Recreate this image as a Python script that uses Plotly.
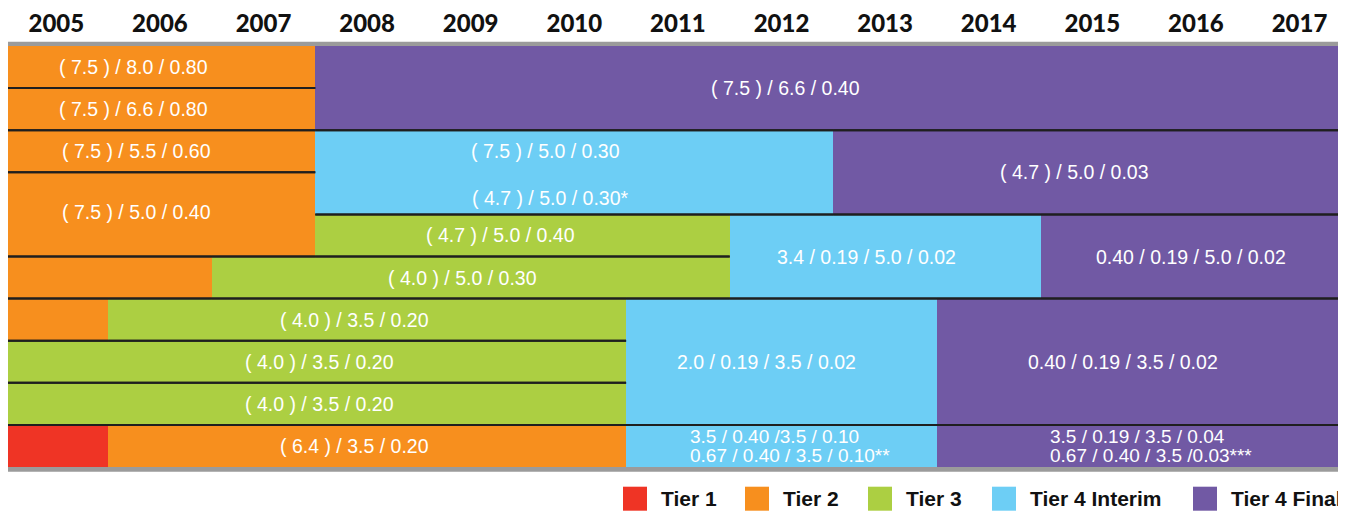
import plotly.graph_objects as go

# ---------------- data ----------------
years = list(range(2005, 2018))
tiers = ["Tier 1", "Tier 2", "Tier 3", "Tier 4 Interim", "Tier 4 Final"]

# timeline blocks: top row (0-9), number of rows covered, start year, end year, tier
block_row   = [0, 0, 1, 0, 2, 2, 2, 3, 4, 4, 4, 5, 5, 6, 6, 6, 6, 7, 7, 8, 8, 9, 9, 9, 9]
block_span  = [2, 1, 1, 2, 1, 2, 2, 2, 1, 2, 2, 1, 1, 1, 1, 3, 3, 1, 1, 1, 1, 1, 1, 1, 1]
block_start = [2004.9, 2005, 2005, 2008, 2004.9, 2008, 2013, 2004.9, 2008, 2012, 2015,
               2004.9, 2007, 2004.9, 2006, 2011, 2014, 2004.9, 2005, 2004.9, 2005,
               2004.9, 2006, 2011, 2014]
block_end   = [2005, 2008, 2008, 2018, 2008, 2013, 2018, 2008, 2012, 2015, 2018,
               2007, 2012, 2006, 2011, 2014, 2018, 2005, 2011, 2005, 2011,
               2006, 2011, 2014, 2018]
block_tier  = ["Tier 1", "Tier 2", "Tier 2", "Tier 4 Final", "Tier 2", "Tier 4 Interim",
               "Tier 4 Final", "Tier 2", "Tier 3", "Tier 4 Interim", "Tier 4 Final",
               "Tier 2", "Tier 3", "Tier 2", "Tier 3", "Tier 4 Interim", "Tier 4 Final",
               "Tier 2", "Tier 3", "Tier 2", "Tier 3", "Tier 1", "Tier 2",
               "Tier 4 Interim", "Tier 4 Final"]

# labels: text, block they belong to, row position (centre)
label_text = [
    "( 7.5 ) / 8.0 / 0.80", "( 7.5 ) / 6.6 / 0.80", "( 7.5 ) / 6.6 / 0.40",
    "( 7.5 ) / 5.5 / 0.60", "( 7.5 ) / 5.0 / 0.30", "( 4.7 ) / 5.0 / 0.30*",
    "( 4.7 ) / 5.0 / 0.03", "( 7.5 ) / 5.0 / 0.40", "( 4.7 ) / 5.0 / 0.40",
    "3.4 / 0.19 / 5.0 / 0.02", "0.40 / 0.19 / 5.0 / 0.02", "( 4.0 ) / 5.0 / 0.30",
    "( 4.0 ) / 3.5 / 0.20", "2.0 / 0.19 / 3.5 / 0.02", "0.40 / 0.19 / 3.5 / 0.02",
    "( 4.0 ) / 3.5 / 0.20", "( 4.0 ) / 3.5 / 0.20", "( 6.4 ) / 3.5 / 0.20",
    "3.5 / 0.40 /3.5 / 0.10<br>0.67 / 0.40 / 3.5 / 0.10**",
    "3.5 / 0.19 / 3.5 / 0.04<br>0.67 / 0.40 / 3.5 /0.03***",
]
label_block = [1, 2, 3, 4, 5, 5, 6, 7, 8, 9, 10, 12, 14, 15, 16, 18, 20, 22, 23, 24]
label_row   = [0.5, 1.5, 1.0, 2.5, 2.5, 3.5, 3.0, 4.0, 4.5, 5.0, 5.0, 5.5, 6.5, 7.5, 7.5,
               7.5, 8.5, 9.5, 9.5, 9.5]

# ---------------- style ----------------
tier_colors = {"Tier 1": "#EF3425", "Tier 2": "#F78F1E", "Tier 3": "#ACCF42",
               "Tier 4 Interim": "#6DCEF5", "Tier 4 Final": "#7159A4"}
label_dx = [-26, -26, -48, -18, -29, -24, -18, -18, -22, -19, -5, -8, -13, -15, -21,
            4, 4, -13, -94, -96]
label_dy = [0, 0, 0, 0, 0, -5, 0, 2, 0, 0, 0, 0, 0, 0, 0, 0, 0, 0, 0, 0]
# page offset of the figure (browser body margin) and page-pixel legend positions
PAGE_OFF = 8
legend_px = [623, 745, 868, 992, 1193]
W, H = 1346 - PAGE_OFF, 512 - PAGE_OFF
plot_top_page, plot_bot_page = 46, 467
ML, MR = 0, 0
MT = plot_top_page - PAGE_OFF
MB = H - (plot_bot_page - PAGE_OFF)
plot_h = H - MT - MB
n_rows = 10
FONT_LBL = "Liberation Sans, Arial, sans-serif"

fig = go.Figure()

for t in tiers:
    idx = [i for i, bt in enumerate(block_tier) if bt == t]
    fig.add_trace(go.Bar(
        orientation="h",
        y=[block_row[i] + block_span[i] / 2 for i in idx],
        x=[block_end[i] - block_start[i] for i in idx],
        base=[block_start[i] for i in idx],
        width=[block_span[i] for i in idx],
        marker=dict(color=tier_colors[t], line=dict(width=0)),
        name=t, showlegend=False, hoverinfo="skip",
    ))

# separator lines along block edges
lx, ly = [], []
for i in range(len(block_row)):
    for yv in (block_row[i], block_row[i] + block_span[i]):
        if 0 < yv < n_rows:
            lx += [block_start[i], block_end[i], None]
            ly += [yv, yv, None]
fig.add_trace(go.Scatter(x=lx, y=ly, mode="lines", line=dict(color="#1f1f1f", width=2),
                         showlegend=False, hoverinfo="skip"))

annotations = []
for txt, b, r, dx, dy in zip(label_text, label_block, label_row, label_dx, label_dy):
    xc = (block_start[b] + block_end[b]) / 2
    if "<br>" in txt:
        lines = txt.split("<br>")
        for k, ln in enumerate(lines):
            annotations.append(dict(
                x=xc, y=r, xref="x", yref="y", text=ln, showarrow=False,
                xanchor="left", yanchor="middle", xshift=dx,
                yshift=(9.3 if k == 0 else -9.3) + dy,
                font=dict(family=FONT_LBL, size=19, color="white")))
    else:
        annotations.append(dict(
            x=xc, y=r, xref="x", yref="y", text=txt, showarrow=False,
            xanchor="center", yanchor="middle", xshift=dx, yshift=dy,
            font=dict(family=FONT_LBL, size=19.5, color="white")))

shapes = []
leg_y = -((498.7 - PAGE_OFF) - (H - MB)) / plot_h
# legend swatches and text
for t, px in zip(tiers, legend_px):
    shapes.append(dict(type="rect", xref="paper", yref="paper",
                       xsizemode="pixel", ysizemode="pixel",
                       xanchor=(px - PAGE_OFF) / W, yanchor=leg_y,
                       x0=0, x1=24, y0=-12, y1=12,
                       fillcolor=tier_colors[t], line=dict(width=0)))
    annotations.append(dict(x=(px + 36 - PAGE_OFF) / W, y=leg_y,
                            xref="paper", yref="paper", text=t, showarrow=False,
                            xanchor="left", yanchor="middle",
                            font=dict(family="Liberation Sans, Arial, sans-serif",
                                      size=21, color="#111111", weight="bold")))

# grey frame (top, bottom, right)
gray = "#9B9B9B"
shapes.append(dict(type="rect", xref="paper", yref="paper", ysizemode="pixel",
                   yanchor=1, x0=0, x1=1, y0=0, y1=4.3, fillcolor=gray,
                   line=dict(width=0), layer="above"))
shapes.append(dict(type="rect", xref="paper", yref="paper", ysizemode="pixel",
                   yanchor=0, x0=0, x1=1, y0=-4.7, y1=0, fillcolor=gray,
                   line=dict(width=0), layer="above"))
shapes.append(dict(type="rect", xref="paper", yref="paper", xsizemode="pixel",
                   xanchor=1, x0=-2.7, x1=0, y0=-4.7 / plot_h, y1=1 + 4.3 / plot_h,
                   fillcolor=gray, line=dict(width=0), layer="above"))

px_per_year = 103.6
x_lo = 2005 + (PAGE_OFF - 4.5) / px_per_year
x_hi = x_lo + (W - ML - MR) / px_per_year

fig.update_layout(
    width=W, height=H,
    margin=dict(l=ML, r=MR, t=MT, b=MB, pad=0, autoexpand=False),
    barmode="overlay", bargap=0,
    plot_bgcolor="white", paper_bgcolor="white",
    showlegend=False,
    annotations=annotations, shapes=shapes,
    xaxis=dict(range=[x_lo, x_hi], side="top", tickvals=[y + 0.5 for y in years],
               ticktext=[str(y) for y in years], ticks="", showgrid=False,
               zeroline=False, showline=False, ticklabelstandoff=8, automargin=False,
               tickfont=dict(family="Lato, DejaVu Sans, sans-serif", size=24,
                             color="#111111", weight=900)),
    yaxis=dict(range=[n_rows, 0], visible=False, showgrid=False, zeroline=False,
               automargin=False),
)

fig.write_html("out.html")
